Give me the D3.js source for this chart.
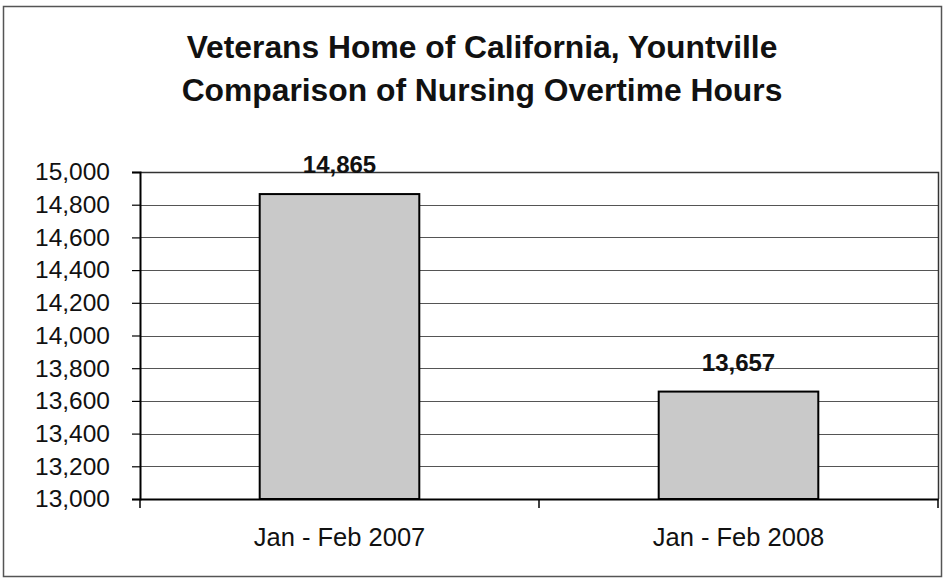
<!DOCTYPE html>
<html>
<head>
<meta charset="utf-8">
<script src="https://cdn.jsdelivr.net/npm/d3@7"></script>
<style>
  html, body { margin: 0; padding: 0; background: #fff; }
  svg { display: block; font-family: Arial, "Liberation Sans", sans-serif; }
</style>
</head>
<body>
<svg id="chart" width="945" height="580"></svg>
<script>
const titleLines = ["Veterans Home of California, Yountville", "Comparison of Nursing Overtime Hours"];
const categories = ["Jan - Feb 2007", "Jan - Feb 2008"];
const values = [14865, 13657];
const yTicks = [13000, 13200, 13400, 13600, 13800, 14000, 14200, 14400, 14600, 14800, 15000];

const svg = d3.select("#chart");
const plot = { left: 140, top: 172, right: 938, bottom: 499 };

// outer frame
svg.append("rect")
  .attr("x", 3.5).attr("y", 6.5).attr("width", 938).attr("height", 570)
  .attr("fill", "#fff").attr("stroke", "#555").attr("stroke-width", 1.5);

// title
svg.append("g").selectAll("text").data(titleLines).join("text")
  .attr("x", 482).attr("y", (d, i) => 58 + i * 43)
  .attr("text-anchor", "middle")
  .attr("font-size", 31.8).attr("font-weight", "bold").attr("fill", "#111")
  .text(d => d);

const x = d3.scaleBand().domain(categories).range([plot.left, plot.right]).padding(0);
const y = d3.scaleLinear().domain([13000, 15000]).range([plot.bottom, plot.top]);

// gridlines
svg.append("g").selectAll("line").data(yTicks.filter(t => t > 13000 && t < 15000)).join("line")
  .attr("x1", plot.left).attr("x2", plot.right)
  .attr("y1", d => Math.round(y(d)) + 0.5).attr("y2", d => Math.round(y(d)) + 0.5)
  .attr("stroke", "#555").attr("stroke-width", 1);

// plot area border (top & right)
svg.append("path")
  .attr("d", `M${plot.left},${plot.top + 0.5}H${plot.right + 0.5}V${plot.bottom}`)
  .attr("fill", "none").attr("stroke", "#333").attr("stroke-width", 1.5);

// bars
const barW = x.bandwidth() * 0.4;
svg.append("g").selectAll("rect").data(values).join("rect")
  .attr("x", (d, i) => x(categories[i]) + x.bandwidth() / 2 - barW / 2)
  .attr("y", d => y(d))
  .attr("width", barW)
  .attr("height", d => y(13000) - y(d))
  .attr("fill", "#c9c9c9").attr("stroke", "#000").attr("stroke-width", 2);

// value labels
svg.append("g").selectAll("text").data(values).join("text")
  .attr("x", (d, i) => x(categories[i]) + x.bandwidth() / 2)
  .attr("y", d => y(d) - 21)
  .attr("text-anchor", "middle")
  .attr("font-size", 24).attr("font-weight", "bold").attr("fill", "#111")
  .text(d => d3.format(",")(d));

// y axis
const yAxis = d3.axisLeft(y).tickValues(yTicks).tickFormat(d3.format(",")).tickSize(8).tickPadding(22);
const gy = svg.append("g").attr("transform", `translate(${plot.left},0)`).call(yAxis);
gy.select(".domain").attr("stroke", "#000").attr("stroke-width", 2);
gy.selectAll(".tick line").attr("stroke", "#000").attr("stroke-width", 1.2);
gy.selectAll(".tick text").attr("font-size", 24.5).attr("fill", "#111")
  .attr("font-family", "Arial, 'Liberation Sans', sans-serif");

// x axis
const xAxis = d3.axisBottom(x).tickSize(0).tickPadding(29);
const gx = svg.append("g").attr("transform", `translate(0,${plot.bottom})`).call(xAxis);
gx.select(".domain").attr("stroke", "#000").attr("stroke-width", 2);
gx.selectAll(".tick text").attr("font-size", 25.5).attr("fill", "#111")
  .attr("font-family", "Arial, 'Liberation Sans', sans-serif");
// tick marks between categories
const bounds = [plot.left, x(categories[1]), plot.right];
svg.append("g").selectAll("line").data(bounds).join("line")
  .attr("x1", d => d).attr("x2", d => d)
  .attr("y1", plot.bottom).attr("y2", plot.bottom + 9)
  .attr("stroke", "#000").attr("stroke-width", 1.5);
</script>
</body>
</html>
